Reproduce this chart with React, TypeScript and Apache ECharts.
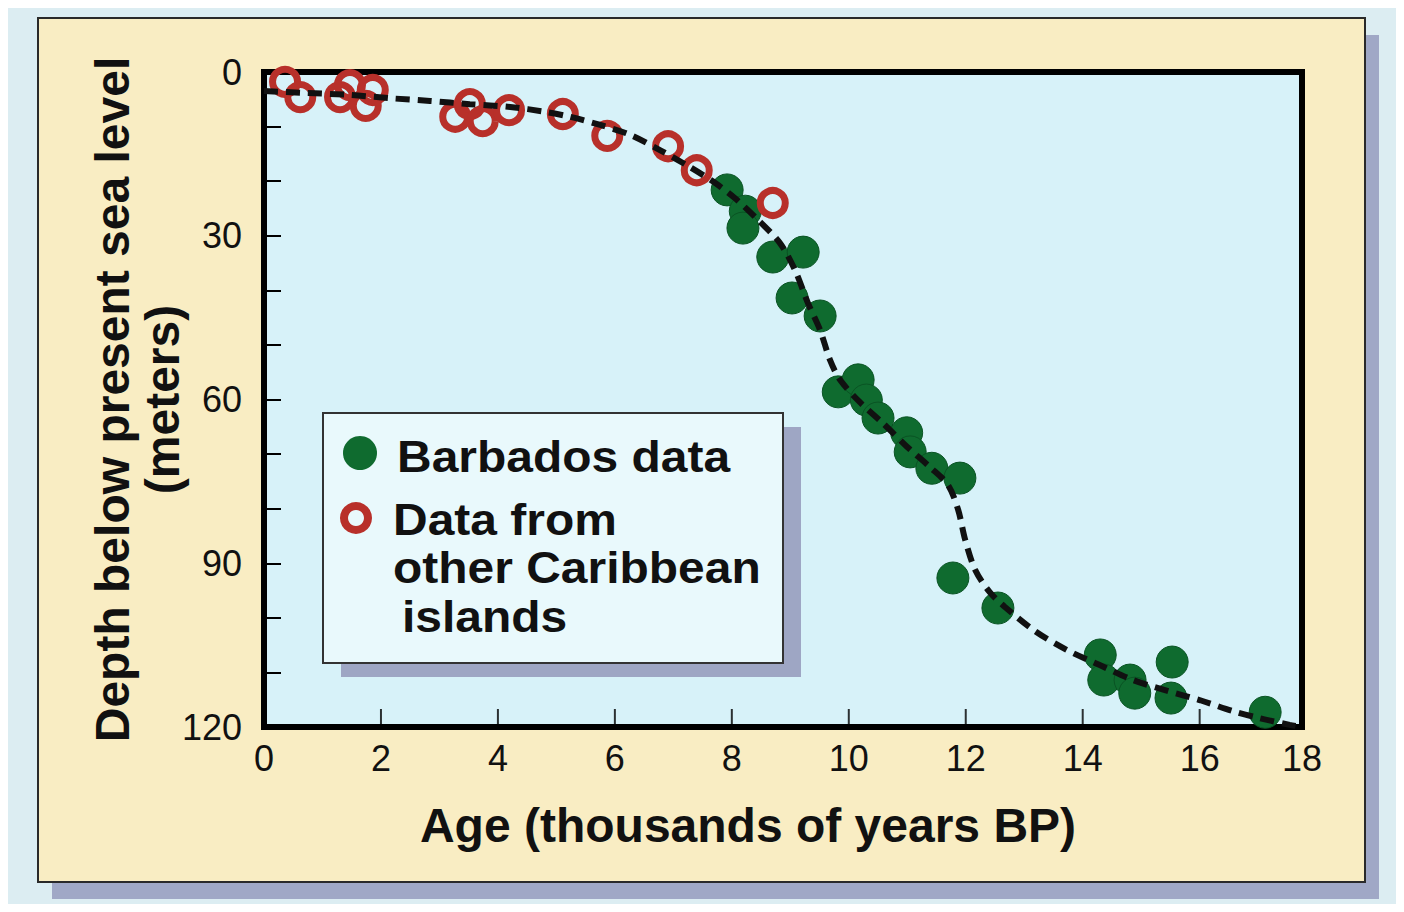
import React, { useEffect, useRef } from "react";
import * as echarts from "echarts";

// Barbados data (age in thousands of years BP, depth below sea level in metres)
const barbadosAge = [7.92, 8.23, 8.19, 8.70, 9.22, 9.03, 9.51, 9.82, 10.16, 10.30, 10.50, 10.99, 11.05, 11.42, 11.90, 11.78, 12.55, 14.30, 14.36, 14.81, 14.89, 15.53, 15.51, 17.12];
const barbadosDepth = [21.6, 25.5, 28.6, 33.9, 33.0, 41.4, 44.7, 58.6, 56.4, 60.1, 63.4, 66.1, 69.6, 72.6, 74.4, 92.7, 98.2, 106.8, 111.4, 111.4, 113.8, 108.1, 114.7, 117.3];

// Data from other Caribbean islands
const otherAge = [0.36, 0.62, 1.30, 1.47, 1.86, 1.74, 3.27, 3.52, 3.74, 4.19, 5.11, 5.87, 6.91, 7.40, 8.70];
const otherDepth = [1.8, 4.6, 4.6, 2.4, 3.3, 6.2, 8.2, 5.9, 9.0, 7.0, 7.7, 11.7, 13.6, 18.0, 24.0];

// Dashed fitted curve
const curveAge = [0, 0.62, 1.47, 2.15, 2.84, 3.52, 4.21, 4.81, 5.23, 5.75, 6.26, 6.77, 7.28, 7.71, 8.05, 8.40, 8.82, 9.08, 9.30, 9.51, 9.68, 9.85, 10.19, 10.58, 11.00, 11.39, 11.70, 11.87, 11.99, 12.16, 12.41, 12.67, 13.18, 13.73, 14.30, 14.86, 15.45, 16.01, 16.57, 17.03, 17.54, 17.75];
const curveDepth = [3.5, 3.8, 4.2, 4.8, 5.3, 5.9, 6.4, 7.3, 8.2, 9.7, 11.5, 14.3, 17.4, 20.3, 23.1, 26.6, 31.3, 36.3, 42.3, 47.3, 52.8, 56.4, 60.5, 64.3, 68.7, 72.4, 75.7, 80.2, 85.7, 91.2, 95.3, 98.0, 102.4, 105.9, 108.7, 111.4, 113.4, 115.1, 117.1, 118.4, 119.6, 120];

// Age axis tick marks (thousands of years)
const ageTicks = [2, 4, 6, 8, 10, 12, 14, 16];

const xMin = 0;
const xMax = 17.75; // plotted edge, labelled "18"
const xInterval = 2;
const yMin = 0;
const yMax = 120;
const yInterval = 30;

const seriesNames = ["Barbados data", "Data from\nother Caribbean\n islands"];
const legendLines = ["Barbados data", "Data from", "other Caribbean", "islands"];
const xTitle = "Age (thousands of years BP)";
const yTitle = "Depth below present sea level\n(meters)";

const FONT = "'Liberation Sans', Arial, Helvetica, sans-serif";
const GREEN = "#0f6b2f";
const RED = "#b8302a";

export default function App() {
  const ref = useRef<HTMLDivElement>(null);
  useEffect(() => {
    if (!ref.current) return;
    const chart = echarts.init(ref.current, undefined, { renderer: "svg" });
    const zip = (a: number[], b: number[]) => a.map((v, i) => [v, b[i]]);
    const legendText = (text: string, x: number, y: number) => ({
      type: "text",
      z: 102,
      x,
      y,
      scaleX: 1.09,
      style: { text, font: `bold 44px ${FONT}`, fill: "#111", verticalAlign: "middle" },
    });
    chart.setOption({
      animation: false,
      backgroundColor: "#dcedf2",
      graphic: [
        { type: "rect", z: -10, shape: { x: 44, y: 27, width: 1327, height: 864 }, style: { fill: "#a0a8c6" } },
        { type: "rect", z: -9, shape: { x: 30, y: 10, width: 1327, height: 864 }, style: { fill: "#f9edc3", stroke: "#2a2a2a", lineWidth: 2 } },
        { type: "rect", z: 100, shape: { x: 333, y: 419, width: 460, height: 250 }, style: { fill: "#9ea6c4" } },
        { type: "rect", z: 101, shape: { x: 315, y: 405, width: 460, height: 250 }, style: { fill: "#e9f9fc", stroke: "#333", lineWidth: 2 } },
        { type: "circle", z: 102, shape: { cx: 352, cy: 445, r: 17 }, style: { fill: GREEN } },
        { type: "ring", z: 102, shape: { cx: 348, cy: 510, r: 16, r0: 8 }, style: { fill: RED } },
        legendText(legendLines[0], 389, 449),
        legendText(legendLines[1], 385, 512),
        legendText(legendLines[2], 385, 560),
        legendText(legendLines[3], 394, 609),
      ],
      grid: {
        left: 256,
        top: 64,
        width: 1038,
        height: 655,
        show: true,
        backgroundColor: "#d7f2f9",
        borderColor: "#000",
        borderWidth: 6,
      },
      xAxis: {
        type: "value",
        position: "bottom",
        min: xMin,
        max: xMax,
        interval: xInterval,
        name: xTitle,
        nameLocation: "middle",
        nameGap: 74,
        nameMoveOverlap: false,
        nameTextStyle: { fontFamily: FONT, fontWeight: "bold", fontSize: 48, color: "#111", padding: [0, 70, 0, 0] },
        axisLine: { show: true, onZero: false, lineStyle: { color: "#000", width: 6 } },
        axisTick: { show: false },
        minorTick: { show: false },
        splitArea: { show: false },
        axisLabel: {
          show: true,
          showMinLabel: true,
          showMaxLabel: true,
          margin: 13,
          fontFamily: FONT,
          fontSize: 36,
          color: "#111",
          formatter: (v: number) => (v > 17 ? "18" : String(v)),
        },
        splitLine: { show: false },
      },
      yAxis: {
        type: "value",
        position: "left",
        inverse: true,
        min: yMin,
        max: yMax,
        interval: yInterval,
        name: yTitle,
        nameLocation: "middle",
        nameRotate: 90,
        nameGap: 77,
        nameMoveOverlap: false,
        nameTextStyle: { fontFamily: FONT, fontWeight: "bold", fontSize: 48, lineHeight: 50, color: "#111", align: "center" },
        axisLine: { show: true, onZero: false, lineStyle: { color: "#000", width: 6 } },
        axisTick: { show: true, inside: true, length: 17, lineStyle: { color: "#000", width: 2 } },
        minorTick: { show: true, splitNumber: 3, length: 17, lineStyle: { color: "#000", width: 2 } },
        axisLabel: { margin: 22, fontFamily: FONT, fontSize: 36, color: "#111" },
        splitLine: { show: false },
      },
      series: [
        {
          name: "Age ticks",
          type: "scatter",
          data: ageTicks.map((t) => [t, yMax]),
          symbol: "rect",
          symbolSize: [2, 18],
          symbolOffset: [0, -9],
          itemStyle: { color: "#000" },
          silent: true,
          clip: false,
          z: 1,
        },
        {
          name: seriesNames[0],
          type: "scatter",
          data: zip(barbadosAge, barbadosDepth),
          symbol: "circle",
          symbolSize: 32,
          itemStyle: { color: GREEN, borderColor: "#0a5424", borderWidth: 1, opacity: 1 },
          z: 2,
        },
        {
          name: seriesNames[1],
          type: "scatter",
          data: zip(otherAge, otherDepth),
          symbol: "circle",
          symbolSize: 25,
          itemStyle: { color: "rgba(0,0,0,0)", borderColor: RED, borderWidth: 7, opacity: 1 },
          z: 3,
        },
        {
          name: "fit",
          type: "line",
          data: zip(curveAge, curveDepth),
          smooth: 0.3,
          showSymbol: false,
          symbol: "none",
          lineStyle: { color: "#111", width: 6, type: [14, 8], cap: "butt" },
          z: 5,
        },
      ],
    });
    return () => chart.dispose();
  }, []);
  return <div ref={ref} style={{ width: 1388, height: 896 }} />;
}
